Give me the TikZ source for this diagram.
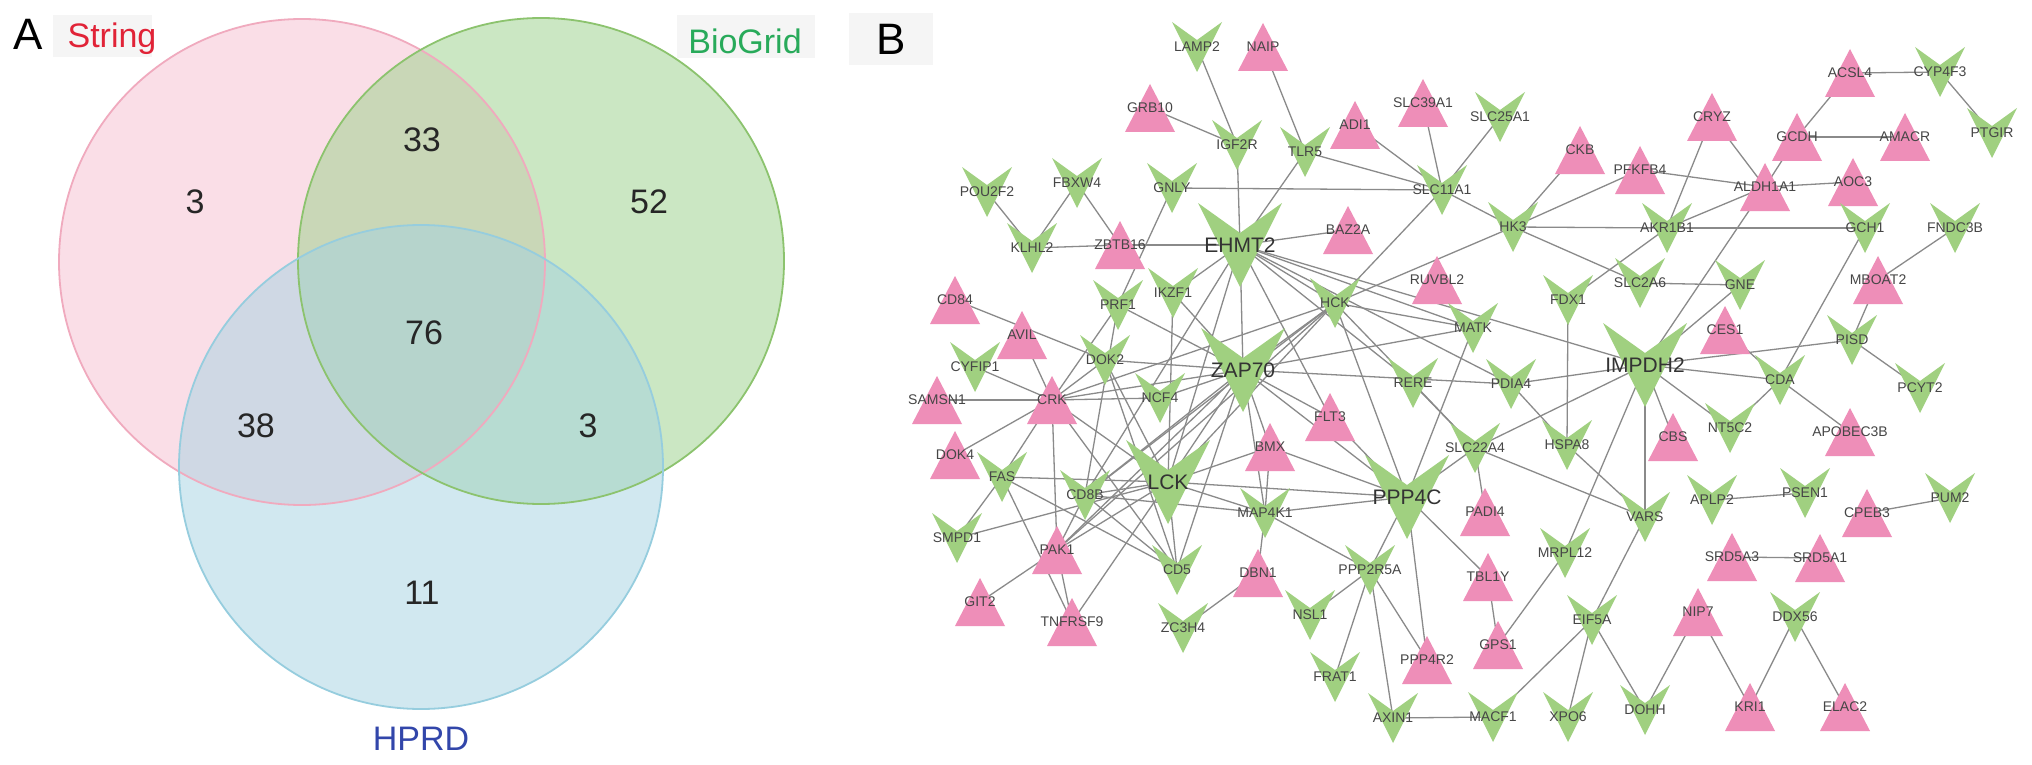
\documentclass[tikz,border=0pt]{standalone}
\usepackage{fontspec}
\setmainfont{Liberation Sans}
\pgfdeclarelayer{bg}
\pgfdeclarelayer{canvas}
\pgfsetlayers{canvas,bg,main}
\definecolor{gfill}{RGB}{160,208,128}
\definecolor{pfill}{RGB}{238,142,184}
\definecolor{edgec}{RGB}{138,138,138}
\definecolor{labc}{RGB}{70,70,70}
\definecolor{vpink}{RGB}{247,190,208}
\definecolor{vpinkd}{RGB}{240,170,190}
\definecolor{vgreen}{RGB}{153,209,137}
\definecolor{vgreend}{RGB}{140,195,110}
\definecolor{vblue}{RGB}{165,211,226}
\definecolor{vblued}{RGB}{150,205,222}
\definecolor{boxc}{RGB}{245,245,245}
\definecolor{strc}{RGB}{225,35,55}
\definecolor{biogc}{RGB}{40,170,90}
\definecolor{hprdc}{RGB}{50,70,170}
\newcommand{\GreenV}[4]{\fill[gfill] (#2,#3) ++(-25,-25) -- ++(25,18) -- ++(25,-18) -- ++(-25,50) -- cycle; \node[slab] (#1) at (#2,#3) {#4};}
\newcommand{\BigV}[4]{\fill[gfill] (#2,#3) ++(-42,-42) -- ++(42,30) -- ++(42,-30) -- ++(-42,84) -- cycle; \node[blab] (#1) at (#2,#3) {#4};}
\newcommand{\PinkT}[4]{\fill[pfill] (#2,#3) ++(-25,24) -- ++(50,0) -- ++(-25,-48) -- cycle; \node[slab] (#1) at (#2,#3) {#4};}
\begin{document}
\begin{tikzpicture}[x=1pt,y=-1pt,
  slab/.style={inner sep=0pt, text=labc, font=\fontsize{14}{14}\selectfont},
  blab/.style={inner sep=0pt, text=black!80, font=\fontsize{21}{21}\selectfont},
  edge/.style={draw=edgec, line width=1.3pt},
  vnum/.style={inner sep=0pt, text=black!85, font=\fontsize{34}{34}\selectfont},
  vlab/.style={inner sep=0pt, font=\fontsize{34}{34}\selectfont},
  panel/.style={inner sep=0pt, font=\fontsize{44}{44}\selectfont}]
\useasboundingbox (0,0) rectangle (2032,765);
\begin{pgfonlayer}{canvas}
\fill[white] (0,0) rectangle (2032,765);
\end{pgfonlayer}
% ---------- Panel A : Venn ----------
\fill[boxc] (53,15) rectangle (152,57);
\fill[boxc] (677,15) rectangle (815,58);
\fill[vpink, fill opacity=.5] (302,262) circle[radius=243pt];
\fill[vgreen, fill opacity=.5] (541,261) circle[radius=243pt];
\fill[vblue, fill opacity=.5] (421,467) circle[radius=242pt];
\draw[vpinkd, line width=1.8pt] (302,262) circle[radius=243pt];
\draw[vgreend, line width=1.8pt] (541,261) circle[radius=243pt];
\draw[vblued, line width=1.8pt] (421,467) circle[radius=242pt];
\node[panel] (pA) at (28,34) {A};
\node[vlab, text=strc] (lstr) at (112,39) {String};
\node[vlab, text=biogc] (lbio) at (745,41) {BioGrid};
\node[vlab, text=hprdc] (lhprd) at (421,739) {HPRD};
\node[vnum] (v33) at (422,140) {33};
\node[vnum] (v3a) at (195,202) {3};
\node[vnum] (v52) at (649,202) {52};
\node[vnum] (v76) at (424,333) {76};
\node[vnum] (v38) at (256,426) {38};
\node[vnum] (v3b) at (588,426) {3};
\node[vnum] (v11) at (422,593) {11};
% ---------- Panel B : network ----------
\node[panel, fill=boxc, minimum width=84pt, minimum height=52pt] (pB) at (891,39) {B};
\GreenV{LAMP2}{1197}{47}{LAMP2}
\PinkT{NAIP}{1263}{47}{NAIP}
\PinkT{GRB10}{1150}{108}{GRB10}
\GreenV{IGF2R}{1237}{145}{IGF2R}
\GreenV{TLR5}{1305}{152}{TLR5}
\PinkT{ADI1}{1355}{125}{ADI1}
\PinkT{SLC39A1}{1423}{103}{SLC39A1}
\GreenV{SLC25A1}{1500}{117}{SLC25A1}
\GreenV{SLC11A1}{1442}{190}{SLC11A1}
\PinkT{CKB}{1580}{150}{CKB}
\PinkT{PFKFB4}{1640}{170}{PFKFB4}
\PinkT{CRYZ}{1712}{117}{CRYZ}
\PinkT{ACSL4}{1850}{73}{ACSL4}
\GreenV{CYP4F3}{1940}{72}{CYP4F3}
\GreenV{PTGIR}{1992}{133}{PTGIR}
\PinkT{GCDH}{1797}{137}{GCDH}
\PinkT{AMACR}{1905}{137}{AMACR}
\PinkT{ALDH1A1}{1765}{187}{ALDH1A1}
\PinkT{AOC3}{1853}{182}{AOC3}
\GreenV{POU2F2}{987}{192}{POU2F2}
\GreenV{FBXW4}{1077}{183}{FBXW4}
\GreenV{GNLY}{1172}{188}{GNLY}
\GreenV{HK3}{1513}{227}{HK3}
\GreenV{AKR1B1}{1667}{228}{AKR1B1}
\GreenV{GCH1}{1865}{228}{GCH1}
\GreenV{FNDC3B}{1955}{228}{FNDC3B}
\GreenV{KLHL2}{1032}{248}{KLHL2}
\PinkT{ZBTB16}{1120}{245}{ZBTB16}
\PinkT{BAZ2A}{1348}{230}{BAZ2A}
\PinkT{RUVBL2}{1437}{280}{RUVBL2}
\GreenV{SLC2A6}{1640}{283}{SLC2A6}
\GreenV{GNE}{1740}{285}{GNE}
\PinkT{MBOAT2}{1878}{280}{MBOAT2}
\PinkT{CD84}{955}{300}{CD84}
\PinkT{AVIL}{1022}{335}{AVIL}
\GreenV{PRF1}{1118}{305}{PRF1}
\GreenV{IKZF1}{1173}{293}{IKZF1}
\GreenV{HCK}{1335}{303}{HCK}
\GreenV{FDX1}{1568}{300}{FDX1}
\PinkT{CES1}{1725}{330}{CES1}
\GreenV{PISD}{1852}{340}{PISD}
\GreenV{PCYT2}{1920}{388}{PCYT2}
\GreenV{CYFIP1}{975}{367}{CYFIP1}
\GreenV{DOK2}{1105}{360}{DOK2}
\GreenV{MATK}{1473}{328}{MATK}
\GreenV{CDA}{1780}{380}{CDA}
\PinkT{SAMSN1}{937}{400}{SAMSN1}
\PinkT{CRK}{1052}{400}{CRK}
\GreenV{NCF4}{1160}{398}{NCF4}
\GreenV{RERE}{1413}{383}{RERE}
\GreenV{PDIA4}{1511}{384}{PDIA4}
\GreenV{NT5C2}{1730}{428}{NT5C2}
\PinkT{APOBEC3B}{1850}{432}{APOBEC3B}
\PinkT{FLT3}{1330}{417}{FLT3}
\PinkT{BMX}{1270}{447}{BMX}
\GreenV{SLC22A4}{1475}{448}{SLC22A4}
\GreenV{HSPA8}{1567}{445}{HSPA8}
\PinkT{CBS}{1673}{437}{CBS}
\PinkT{DOK4}{955}{455}{DOK4}
\GreenV{FAS}{1002}{477}{FAS}
\GreenV{CD8B}{1085}{495}{CD8B}
\GreenV{MAP4K1}{1265}{513}{MAP4K1}
\PinkT{PADI4}{1485}{512}{PADI4}
\GreenV{VARS}{1645}{517}{VARS}
\GreenV{APLP2}{1712}{500}{APLP2}
\GreenV{PSEN1}{1805}{493}{PSEN1}
\PinkT{CPEB3}{1867}{513}{CPEB3}
\GreenV{PUM2}{1950}{498}{PUM2}
\GreenV{SMPD1}{957}{538}{SMPD1}
\PinkT{PAK1}{1057}{550}{PAK1}
\GreenV{CD5}{1177}{570}{CD5}
\PinkT{DBN1}{1258}{573}{DBN1}
\GreenV{PPP2R5A}{1370}{570}{PPP2R5A}
\PinkT{TBL1Y}{1488}{577}{TBL1Y}
\GreenV{MRPL12}{1565}{553}{MRPL12}
\PinkT{SRD5A3}{1732}{557}{SRD5A3}
\PinkT{SRD5A1}{1820}{558}{SRD5A1}
\PinkT{GIT2}{980}{602}{GIT2}
\PinkT{TNFRSF9}{1072}{622}{TNFRSF9}
\GreenV{ZC3H4}{1183}{628}{ZC3H4}
\GreenV{NSL1}{1310}{615}{NSL1}
\GreenV{EIF5A}{1592}{620}{EIF5A}
\PinkT{GPS1}{1498}{645}{GPS1}
\PinkT{NIP7}{1698}{612}{NIP7}
\GreenV{DDX56}{1795}{617}{DDX56}
\GreenV{FRAT1}{1335}{677}{FRAT1}
\PinkT{PPP4R2}{1427}{660}{PPP4R2}
\GreenV{AXIN1}{1393}{718}{AXIN1}
\GreenV{MACF1}{1493}{717}{MACF1}
\GreenV{XPO6}{1568}{717}{XPO6}
\GreenV{DOHH}{1645}{710}{DOHH}
\PinkT{KRI1}{1750}{707}{KRI1}
\PinkT{ELAC2}{1845}{707}{ELAC2}
\BigV{EHMT2}{1240}{245}{EHMT2}
\BigV{ZAP70}{1243}{370}{ZAP70}
\BigV{LCK}{1168}{482}{LCK}
\BigV{PPP4C}{1407}{497}{PPP4C}
\BigV{IMPDH2}{1645}{365}{IMPDH2}
\begin{pgfonlayer}{bg}
\foreach \a/\b in {LAMP2/IGF2R, NAIP/TLR5, GRB10/IGF2R, IGF2R/EHMT2, POU2F2/KLHL2, FBXW4/KLHL2, FBXW4/ZBTB16, GNLY/SLC11A1, GNLY/PRF1, KLHL2/ZBTB16, ZBTB16/EHMT2, TLR5/EHMT2, TLR5/SLC11A1, ADI1/SLC11A1, SLC39A1/SLC11A1, SLC25A1/SLC11A1, SLC11A1/HK3, SLC11A1/HCK, CKB/HK3, PFKFB4/HK3, HK3/AKR1B1, AKR1B1/GCH1, HK3/SLC2A6, HK3/HCK, PFKFB4/ALDH1A1, CRYZ/ALDH1A1, CRYZ/AKR1B1, ALDH1A1/AKR1B1, ALDH1A1/GCDH, GCDH/ACSL4, GCDH/AMACR, ACSL4/CYP4F3, CYP4F3/PTGIR, ALDH1A1/AOC3, ALDH1A1/IMPDH2, AKR1B1/FDX1, SLC2A6/GNE, GNE/IMPDH2, GCH1/CDA, FNDC3B/MBOAT2, MBOAT2/PISD, PISD/IMPDH2, PISD/PCYT2, IMPDH2/CDA, CES1/CDA, CDA/NT5C2, CDA/APOBEC3B, IMPDH2/NT5C2, IMPDH2/CBS, IMPDH2/VARS, IMPDH2/PDIA4, IMPDH2/SLC22A4, IMPDH2/MRPL12, MRPL12/GPS1, EHMT2/IMPDH2, FDX1/HSPA8, PDIA4/HSPA8, HSPA8/VARS, SLC22A4/VARS, VARS/EIF5A, EIF5A/MACF1, EIF5A/XPO6, EIF5A/DOHH, DOHH/NIP7, NIP7/KRI1, KRI1/DDX56, DDX56/ELAC2, APLP2/PSEN1, SRD5A3/SRD5A1, CPEB3/PUM2, AXIN1/MACF1, PPP2R5A/AXIN1, PPP2R5A/FRAT1, PPP2R5A/NSL1, PPP2R5A/PPP4R2, PPP2R5A/PPP4C, PPP4C/PPP4R2, PPP4C/TBL1Y, TBL1Y/GPS1, SLC22A4/PADI4, SLC22A4/PPP4C, RERE/SLC22A4, PPP4C/FLT3, PPP4C/BMX, PPP4C/MAP4K1, PPP4C/LCK, PPP4C/MATK, PPP4C/HCK, MAP4K1/PPP2R5A, MAP4K1/DBN1, DBN1/ZC3H4, LCK/MAP4K1, LCK/BMX, LCK/CD5, LCK/CD8B, FAS/LCK, LCK/PAK1, LCK/TNFRSF9, LCK/CRK, LCK/ZAP70, LCK/HCK, LCK/DOK2, IKZF1/LCK, SMPD1/LCK, FAS/CD5, FAS/TNFRSF9, FAS/SMPD1, FAS/CRK, CRK/DOK4, CRK/SAMSN1, CRK/PAK1, CRK/AVIL, CRK/CYFIP1, CRK/DOK2, CRK/ZAP70, CRK/HCK, CRK/CD5, PAK1/GIT2, PAK1/TNFRSF9, PAK1/CD8B, PAK1/ZAP70, PAK1/HCK, CD8B/ZAP70, CD8B/HCK, CD8B/CD5, CD8B/MAP4K1, CD84/DOK2, DOK2/ZAP70, DOK2/CD5, PRF1/CRK, PRF1/ZAP70, PRF1/CD8B, IKZF1/ZAP70, NCF4/ZAP70, NCF4/CRK, EHMT2/ZAP70, EHMT2/HCK, EHMT2/BAZ2A, EHMT2/MATK, EHMT2/PDIA4, EHMT2/RERE, EHMT2/FLT3, EHMT2/LCK, EHMT2/IKZF1, EHMT2/CD8B, HCK/ZAP70, HCK/SLC22A4, HCK/MATK, ZAP70/MATK, ZAP70/PDIA4, ZAP70/FLT3, ZAP70/PPP4C, ZAP70/CD5, ZAP70/MAP4K1, BMX/MAP4K1, ZAP70/BMX}
  \draw[edge] (\a.center) -- (\b.center);
\end{pgfonlayer}
\end{tikzpicture}
\end{document}
